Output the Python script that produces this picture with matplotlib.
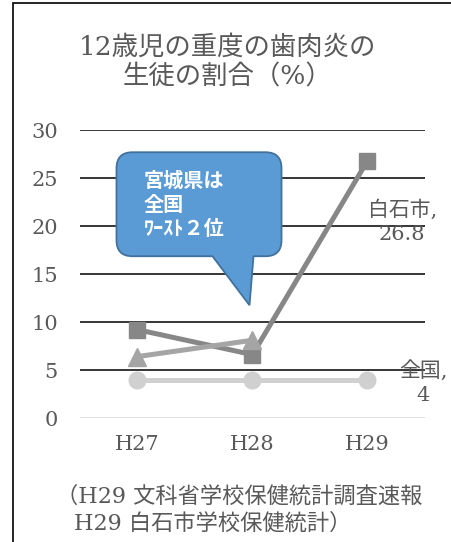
import matplotlib.pyplot as plt
from matplotlib.path import Path
from matplotlib.patches import PathPatch, Rectangle
from matplotlib.transforms import Affine2D

plt.rcParams['font.family'] = ['DejaVu Serif', 'Noto Sans CJK JP']

years = ['H27', 'H28', 'H29']
shiraishi = [9.2, 6.6, 26.8]   # 白石市
miyagi = [6.4, 8.1]            # 宮城県 (H27, H28)
zenkoku = [4, 4, 4]            # 全国

TEXT = '#595959'

fig = plt.figure(figsize=(4.52, 5.42), dpi=100)
ax = fig.add_axes([80 / 452, 1 - 418 / 542, 345 / 452, 288 / 542])

x = list(range(len(years)))
ax.plot(x, shiraishi, color='#878787', lw=3.6, marker='s', ms=11, zorder=3)
ax.plot(x[:len(miyagi)], miyagi, color='#a5a5a5', lw=3.6, marker='^', ms=13, zorder=4)
ax.plot(x, zenkoku, color='#d0d0d0', lw=3.6, marker='o', ms=12, zorder=3)

ax.set_xlim(-0.5, 2.5)
ax.set_ylim(0, 30)
ax.set_yticks(range(0, 31, 5))
for v in range(5, 31, 5):
    ax.axhline(v, color='black', lw=1.1, zorder=1)
ax.axhline(0, color='#d9d9d9', lw=1.1, zorder=1)
for s in ax.spines.values():
    s.set_visible(False)
ax.set_xticks(x, years)
ax.tick_params(axis='y', length=0, pad=16, labelsize=15, labelcolor=TEXT)
ax.tick_params(axis='x', length=0, pad=12, labelsize=15, labelcolor=TEXT)

# data labels
ax.annotate('白石市,\n26.8', xy=(2, shiraishi[2]), xytext=(25, -44),
            textcoords='offset points', ha='center', va='center',
            fontsize=15, color=TEXT, linespacing=1.3, annotation_clip=False)
ax.annotate('全国,\n4', xy=(2, zenkoku[2]), xytext=(40, -2),
            textcoords='offset points', ha='center', va='center',
            fontsize=15, color=TEXT, linespacing=1.3, annotation_clip=False)

# callout pointing at the 宮城県 H28 point (pixel offsets from the tip)
tx, ty = ax.transData.transform((1, miyagi[1]))
tx, ty = tx - 3, ty + 35
x0, x1, y0, y1, r = -133, 32, 49, 153, 16
tl, tr = -37, 4
verts = [(x0 + r, y0), (tl, y0), (0, 0), (tr, y0), (x1 - r, y0),
         (x1, y0), (x1, y0 + r), (x1, y1 - r),
         (x1, y1), (x1 - r, y1), (x0 + r, y1),
         (x0, y1), (x0, y1 - r), (x0, y0 + r),
         (x0, y0), (x0 + r, y0), (x0 + r, y0)]
codes = [Path.MOVETO, Path.LINETO, Path.LINETO, Path.LINETO, Path.LINETO,
         Path.CURVE3, Path.CURVE3, Path.LINETO,
         Path.CURVE3, Path.CURVE3, Path.LINETO,
         Path.CURVE3, Path.CURVE3, Path.LINETO,
         Path.CURVE3, Path.CURVE3, Path.CLOSEPOLY]
shift = Affine2D().translate(tx, ty)
fig.add_artist(PathPatch(Path(verts, codes), facecolor='#5b9bd5',
                         edgecolor='#41719c', lw=1.3, transform=shift, zorder=5))
fig.text(-106, 136, '宮城県は\n全国\nﾜｰｽﾄ２位', transform=shift, ha='left', va='top',
         fontsize=14.5, color='white', fontweight='bold', linespacing=1.2,
         family=['Noto Sans CJK JP', 'DejaVu Sans'], zorder=6)

fig.text(0.504, 1 - 62 / 542, '12歳児の重度の歯肉炎の\n生徒の割合（%）', ha='center',
         va='center', fontsize=19, color=TEXT, linespacing=1.2)
fig.text(56 / 452, 1 - 497 / 542, '（H29 文科省学校保健統計調査速報', ha='left',
         va='center', fontsize=16, color=TEXT)
fig.text(74 / 452, 1 - 524 / 542, 'H29 白石市学校保健統計）', ha='left',
         va='center', fontsize=16, color=TEXT)

fig.add_artist(Rectangle((13 / 452, -0.1), 2, 1.1 - 3 / 542, transform=fig.transFigure,
                         fill=False, edgecolor='black', lw=1.2))

fig.savefig('out.png', dpi=100)
